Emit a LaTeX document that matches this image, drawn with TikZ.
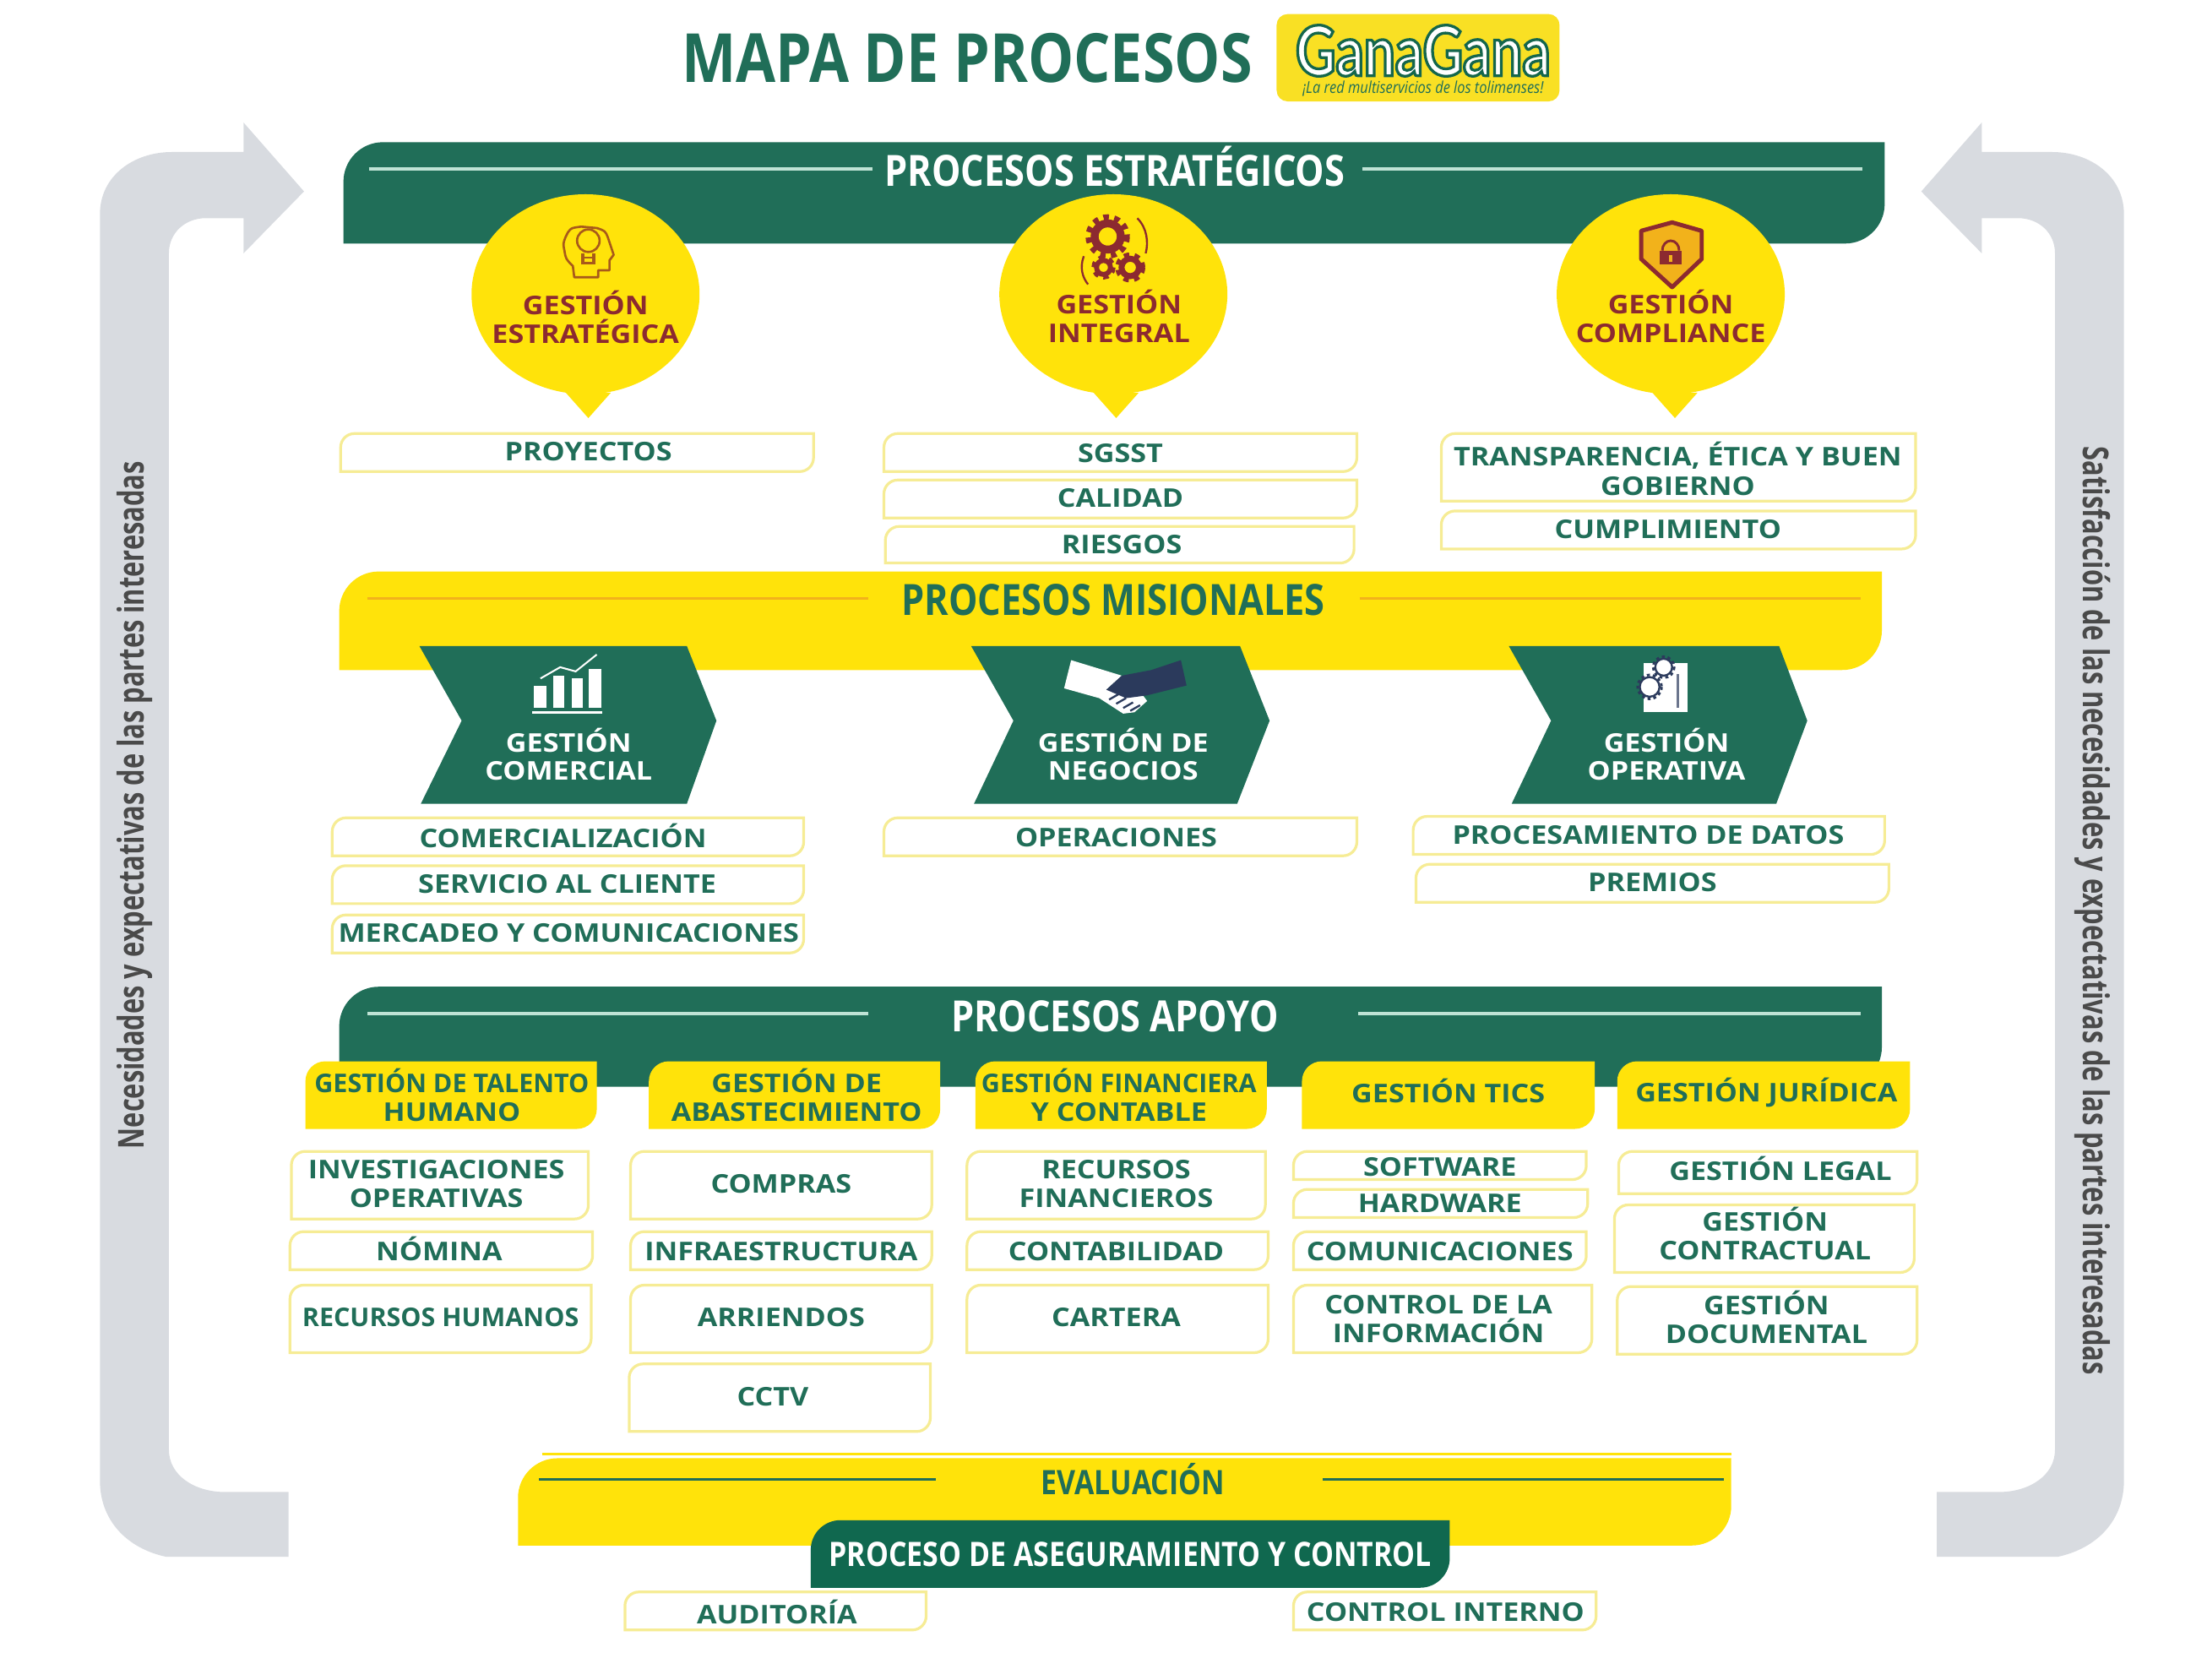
\documentclass[tikz,border=0pt]{standalone}
\usepackage{fontspec}
\setmainfont{Open Sans}
\newfontfamily\condfont[FakeStretch=0.85]{Open Sans}
\newfontfamily\narrowfont[FakeStretch=0.73]{Open Sans}
\newfontfamily\widefont[FakeStretch=1.12]{Open Sans}
\newfontfamily\logofont[FakeStretch=0.8,FakeBold=4]{Lato}
\usepackage{xcolor}
\definecolor{mgreen}{HTML}{206E58}
\definecolor{mdeep}{HTML}{10684F}
\definecolor{myellow}{HTML}{FFE30A}
\definecolor{mlogo}{HTML}{F9E024}
\definecolor{mline}{HTML}{F6EC95}
\definecolor{mgrey}{HTML}{D8DBE0}
\definecolor{mside}{HTML}{4A4A4A}
\definecolor{mred}{HTML}{8C2A30}
\definecolor{mamber}{HTML}{F2B21B}
\definecolor{mbrown}{HTML}{A85A1A}
\definecolor{mpale}{HTML}{BFE3D5}
\definecolor{mnavy}{HTML}{2B3A5C}
\tikzset{
  greenband/.style={fill=mgreen},
  yellowband/.style={fill=myellow},
  listbox/.style={draw=mline, line width=0.55pt, fill=white},
  headbox/.style={fill=myellow},
  paleline/.style={draw=mpale, line width=0.65pt},
  amberline/.style={draw=mamber, line width=0.5pt},
  darkline/.style={draw=mgreen, line width=0.6pt},
  listtext/.style={font=\widefont\fontsize{5.2}{5.85}\selectfont\bfseries, text=mgreen, align=center, inner sep=0pt},
  bubtext/.style={font=\widefont\fontsize{5.2}{5.85}\selectfont\bfseries, text=mred, align=center, inner sep=0pt},
  chevtext/.style={font=\widefont\fontsize{5.2}{5.7}\selectfont\bfseries, text=white, align=center, inner sep=0pt},
  bandtext/.style={font=\condfont\fontsize{8.7}{10}\selectfont\bfseries, inner sep=0pt},
  evaltext/.style={font=\condfont\fontsize{6.8}{8}\selectfont\bfseries, inner sep=0pt},
  sidetext/.style={font=\narrowfont\fontsize{7.2}{8}\selectfont\bfseries, text=mside, inner sep=0pt},
}
% box with two rounded corners, top left and bottom right
\newcommand{\tagshape}[5]{(#1,#4) [rounded corners=#5] -- (#1,#2) [sharp corners] -- (#3,#2) [rounded corners=#5] -- (#3,#4) [sharp corners] -- cycle}
\newcommand{\gearicon}[3]{%
  \draw[mred, line width=#3] (#1) circle [radius=#2*0.62];
  \draw[mred, line width=#3*0.7, dash pattern=on 1.1pt off 1.1pt] (#1) circle [radius=#2*0.92];
}
\begin{document}
\begin{tikzpicture}[x=0.01cm, y=-0.01cm]
  \useasboundingbox (0,0) rectangle (1568,1193);

  % title and logo
  \node[font=\condfont\fontsize{13.7}{15}\selectfont\bfseries, text=mgreen, inner sep=0pt] (title) at (687,41) {MAPA DE PROCESOS};
  \path[fill=mlogo, rounded corners=2.2pt] (907,10) rectangle (1108,72);
  \node[inner sep=0pt, font=\logofont\fontsize{14}{15}\selectfont\bfseries, text=white] (logo) at (1011,36) {\special{pdf:code 0.08 0.40 0.30 RG}GanaGana};
  \node[inner sep=0pt, font=\condfont\fontsize{3.3}{4}\selectfont\itshape, text=mgreen] (logosub) at (1011,63) {¡La red multiservicios de los tolimenses!};

  % grey side arrows
  \fill[mgrey] (205,1106) -- (118,1106) .. controls (90,1100) and (71,1080) .. (71,1052) -- (71,152)
    .. controls (71,125) and (95,108) .. (122,108) -- (173,108) -- (173,87) -- (216,136) -- (173,180) -- (173,155)
    -- (146,155) .. controls (132,155) and (120,165) .. (120,180) -- (120,1030)
    .. controls (120,1048) and (138,1060) .. (160,1060) -- (205,1060) -- cycle;
  \fill[mgrey] (1376,1106) -- (1462,1106) .. controls (1490,1100) and (1509,1080) .. (1509,1052) -- (1509,152)
    .. controls (1509,125) and (1485,108) .. (1458,108) -- (1408,108) -- (1408,87) -- (1365,136) -- (1408,180) -- (1408,155)
    -- (1434,155) .. controls (1448,155) and (1460,165) .. (1460,180) -- (1460,1030)
    .. controls (1460,1048) and (1442,1060) .. (1420,1060) -- (1376,1060) -- cycle;
  \node[sidetext, rotate=90] (lefttxt) at (96,572) {Necesidades y expectativas de las partes interesadas};
  \node[sidetext, rotate=-90] (righttxt) at (1487,647) {Satisfacción de las necesidades y expectativas de las partes interesadas};

  % bands
  \path[greenband] \tagshape{244}{101}{1339}{173}{8pt};
  \draw[paleline] (262,120) -- (620,120);
  \draw[paleline] (968,120) -- (1323,120);
  \node[bandtext, text=white] (estr) at (792,118) {PROCESOS ESTRATÉGICOS};

  \path[yellowband] \tagshape{241}{406}{1337}{476}{8pt};
  \draw[amberline] (261,425) -- (617,425);
  \draw[amberline] (966,425) -- (1322,425);
  \node[bandtext, text=mgreen] (misi) at (791,426) {PROCESOS MISIONALES};

  \path[greenband] \tagshape{241}{701}{1337}{772}{8pt};
  \draw[paleline] (261,720) -- (617,720);
  \draw[paleline] (965,720) -- (1322,720);
  \node[bandtext, text=white] (apoyo) at (792,722) {PROCESOS APOYO};

  \draw[myellow, line width=0.4pt] (385,1033) -- (1230,1033);
  \path[yellowband] \tagshape{368}{1036}{1230}{1098}{8pt};
  \draw[darkline] (383,1051) -- (665,1051);
  \draw[darkline] (940,1051) -- (1225,1051);
  \node[evaltext, text=mgreen] (eval) at (805,1051) {EVALUACIÓN};
  \path[fill=mdeep] \tagshape{576}{1080}{1030}{1128}{6pt};
  \node[evaltext, text=white] (aseg) at (803,1104) {PROCESO DE ASEGURAMIENTO Y CONTROL};

  % bubbles
  \foreach \cx/\tx in {416/418, 791/793, 1187/1190}{
    \fill[myellow] (\cx,209) ellipse [x radius=81, y radius=71];
    \fill[myellow] (\tx-16,279) -- (\tx,297) -- (\tx+16,279) -- cycle;
  }
  \node[bubtext] (gest) at (416,225.5) {GESTIÓN\\ESTRATÉGICA};
  \node[bubtext] (gint) at (795,224.5) {GESTIÓN\\INTEGRAL};
  \node[bubtext] (gcom) at (1187,224.5) {GESTIÓN\\COMPLIANCE};

  % head with bulb
  \draw[mbrown, line width=0.45pt, line join=round] (408,197) -- (425,197) -- (425,192) -- (433,192) -- (433,185) -- (436,181)
    .. controls (434,175) .. (432,169) .. controls (430,164) .. (424,162) -- (413,161)
    .. controls (405,162) .. (402,168) .. controls (400,173) .. (401,178) .. controls (402,184) .. (407,189) -- cycle;
  \draw[mbrown, line width=0.45pt] (418,171) circle [radius=8];
  \draw[mbrown, line width=0.6pt] (414,180) -- (414,187) -- (422,187) -- (422,180);
  \draw[mbrown, line width=0.35pt] (414,183) -- (422,183);
  % gears
  \gearicon{787,168}{15}{1.6pt}
  \gearicon{803,190}{10}{1.2pt}
  \gearicon{784,190}{8}{1pt}
  \draw[mred, line width=0.4pt] (808,155) .. controls (815,162) and (816,172) .. (814,180);
  \draw[mred, line width=0.4pt] (770,182) .. controls (767,190) and (769,197) .. (773,202);
  % shield and lock
  \draw[mred, fill=mamber, line width=0.85pt, line join=round] (1188,158) -- (1166,164) -- (1166,184) -- (1188,204) -- (1209,184) -- (1209,164) -- cycle;
  \fill[mred] (1179,178) rectangle (1195,188);
  \draw[mred, line width=0.5pt] (1181,178) arc [start angle=180, end angle=0, x radius=6, y radius=-7];
  \fill[mamber] (1186,181) rectangle (1188,186);

  % chevrons
  \fill[mgreen] (298,459) -- (488,459) -- (509,512) -- (488,571) -- (299,571) -- (328,512) -- cycle;
  \fill[mgreen] (690,459) -- (881,459) -- (902,512) -- (879,571) -- (692,571) -- (720,512) -- cycle;
  \fill[mgreen] (1072,459) -- (1264,459) -- (1284,512) -- (1262,571) -- (1074,571) -- (1102,512) -- cycle;
  \node[chevtext] (gcome) at (404,536) {GESTIÓN\\COMERCIAL};
  \node[chevtext] (gnego) at (798,536) {GESTIÓN DE\\NEGOCIOS};
  \node[chevtext] (gopera) at (1184,536) {GESTIÓN\\OPERATIVA};

  % bar chart
  \foreach \xa/\xb/\yt in {379/388/487, 393/401/480, 406/414/482, 418/427/475}{
    \fill[white] (\xa,\yt) rectangle (\xb,503);
  }
  \fill[white] (378,505) rectangle (428,507);
  \draw[white, line width=0.35pt] (384,482) -- (398,474) -- (409,477) -- (424,465);
  % handshake
  \fill[white] (761,469) -- (797,480) -- (786,490) -- (812,494) -- (815,498) -- (806,506) -- (798,507) -- (781,496) -- (756,489) -- cycle;
  \fill[mnavy] (839,469) -- (818,476) -- (797,480) -- (786,490) -- (800,496) -- (815,494) -- (843,487) -- cycle;
  \foreach \xa/\ya in {788/497, 793/500, 798/503, 803/505}{
    \draw[mnavy, line width=0.4pt] (\xa,\ya) -- (\xa+7,\ya-4);
  }
  % sheet with gears
  \fill[white] (1168,471) rectangle (1199,506);
  \foreach \cx/\cy/\rr in {1182/474/6, 1172/488/7}{
    \draw[mnavy, line width=0.4pt, fill=white] (\cx,\cy) circle [radius=\rr];
    \draw[mnavy, line width=0.5pt, dash pattern=on 0.6pt off 0.6pt] (\cx,\cy) circle [radius=\rr+1.5];
  }
  \draw[mnavy!70, line width=0.5pt] (1192,479) -- (1192,503);

  % yellow heads of the support columns
  \foreach \nm/\xa/\xb/\cx/\cy/\txt in {
    htal/217/424/321/778/{\rmfamily GESTIÓN DE TALENTO\\HUMANO},
    habas/461/668/566/778/{GESTIÓN DE\\ABASTECIMIENTO},
    hfin/693/900/795/778/{\rmfamily GESTIÓN FINANCIERA\\Y CONTABLE},
    htic/925/1133/1029/775/{GESTIÓN TICS},
    hjur/1149/1357/1255/776/{GESTIÓN JURÍDICA}}{
    \path[headbox] \tagshape{\xa}{754}{\xb}{802}{4pt};
    \node[listtext] (\nm) at (\cx,\cy) {\txt};
  }

  % list boxes
  \foreach \nm/\xa/\ya/\xb/\yb/\cx/\cy/\txt in {
    proy/242/308/578/335/418/321/{PROYECTOS},
    sgsst/628/308/964/335/796/322/{SGSST},
    cali/628/341/964/368/796/354/{CALIDAD},
    ries/629/374/962/400/797/387/{RIESGOS},
    tran/1024/308/1361/356/1192/333/{TRANSPARENCIA, ÉTICA Y BUEN\\GOBIERNO},
    cump/1024/363/1361/390/1185/376/{CUMPLIMIENTO},
    come/236/581/571/608/400/594/{COMERCIALIZACIÓN},
    serv/236/615/571/642/403/628/{SERVICIO AL CLIENTE},
    merc/236/650/571/677/404/663/{MERCADEO Y COMUNICACIONES},
    oper/628/581/964/608/793/595/{OPERACIONES},
    proc/1004/580/1339/607/1171/593/{PROCESAMIENTO DE DATOS},
    prem/1006/614/1342/641/1174/627/{PREMIOS},
    inve/207/818/418/866/310/841/{INVESTIGACIONES\\OPERATIVAS},
    nomi/206/875/421/902/312/887/{NÓMINA},
    rrhh/206/913/420/961/313/936/{\rmfamily RECURSOS HUMANOS},
    comp/448/818/662/866/555/841/{COMPRAS},
    infr/448/875/662/902/555/889/{INFRAESTRUCTURA},
    arri/448/913/662/961/555/936/{ARRIENDOS},
    cctv/447/969/661/1017/549/992/{CCTV},
    rfin/687/818/899/866/793/841/{RECURSOS\\FINANCIEROS},
    cont/687/875/901/902/793/889/{CONTABILIDAD},
    cart/687/913/901/961/793/936/{CARTERA},
    soft/919/818/1127/838/1023/829/{SOFTWARE},
    hard/919/845/1128/865/1023/855/{HARDWARE},
    comu/919/875/1127/902/1023/889/{COMUNICACIONES},
    ctrl/919/913/1131/961/1022/937/{CONTROL DE LA\\INFORMACIÓN},
    lega/1150/818/1362/848/1265/830/{GESTIÓN LEGAL},
    ctra/1147/856/1360/904/1254/876.5/{GESTIÓN\\CONTRACTUAL},
    docu/1149/914/1362/962/1255/936/{GESTIÓN\\DOCUMENTAL},
    audi/444/1131/658/1158/552/1145/{AUDITORÍA},
    cint/919/1131/1134/1158/1027/1145/{CONTROL INTERNO}}{
    \path[listbox] \tagshape{\xa}{\ya}{\xb}{\yb}{2.8pt};
    \node[listtext] (\nm) at (\cx,\cy) {\txt};
  }
\end{tikzpicture}
\end{document}
